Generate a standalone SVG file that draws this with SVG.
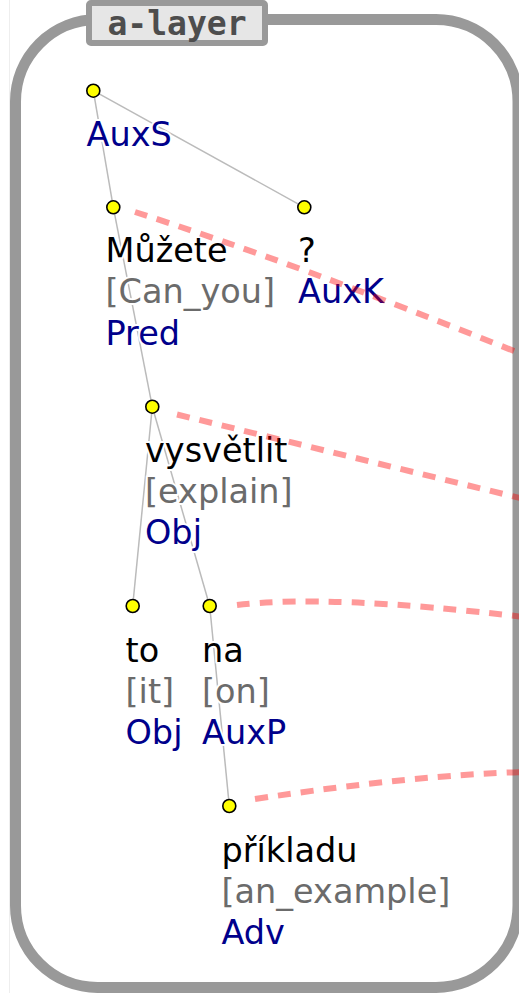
<svg xmlns="http://www.w3.org/2000/svg" width="519" height="993" viewBox="0 0 519 993">
<style>
.t{font-family:"DejaVu Sans","Noto Sans",sans-serif;font-size:33.5px;stroke:#fff;stroke-width:4;stroke-linejoin:round;paint-order:stroke}
.w{fill:#000}
.g{fill:#6b6b6b}
.f{fill:#00008b}
.e{stroke:#bbb;stroke-width:1.5;fill:none}
.c{stroke:#f00;stroke-opacity:0.4;stroke-width:6;fill:none;stroke-dasharray:13 10}
.n{fill:#ff0;stroke:#000;stroke-width:1.6}
</style>
<rect width="519" height="993" fill="#fff"/>
<line x1="9.5" y1="0" x2="9.5" y2="993" stroke="#eee" stroke-width="1"/>
<g id="layer-frame">
<rect x="15.5" y="19.5" width="502.5" height="968" rx="82" ry="82" fill="none" stroke="#999" stroke-width="11"/>
<rect x="89" y="3" width="176" height="40" rx="2" fill="#e6e6e6" stroke="#999" stroke-width="6"/>
<text x="177" y="35" text-anchor="middle" font-family="'DejaVu Sans Mono',monospace" font-weight="bold" font-size="33" fill="#4d4d4d">a-layer</text>
</g>
<g id="edges">
<line class="e" x1="93.3" y1="90.7" x2="113.3" y2="207.3"/>
<line class="e" x1="93.3" y1="90.7" x2="304.3" y2="207.3"/>
<line class="e" x1="113.3" y1="207.3" x2="152.3" y2="406.7"/>
<line class="e" x1="152.3" y1="406.7" x2="132.7" y2="606"/>
<line class="e" x1="152.3" y1="406.7" x2="209.7" y2="606"/>
<line class="e" x1="209.7" y1="606" x2="229.3" y2="806"/>
</g>
<g id="n-auxs">
<text class="t f" x="86.5" y="146">AuxS</text>
</g>
<g id="n-muzete">
<text class="t w" x="105.5" y="262">Můžete</text>
<text class="t g" x="105.5" y="303.3">[Can_you]</text>
<text class="t f" x="105.5" y="344.6">Pred</text>
</g>
<g id="n-q">
<text class="t w" x="298" y="262">?</text>
<text class="t f" x="298" y="303.3">AuxK</text>
</g>
<g id="n-vysvetlit">
<text class="t w" x="145" y="461.5">vysvětlit</text>
<text class="t g" x="145" y="502.8">[explain]</text>
<text class="t f" x="145" y="544.1">Obj</text>
</g>
<g id="n-to">
<text class="t w" x="125.5" y="661.5">to</text>
<text class="t g" x="125.5" y="702.8">[it]</text>
<text class="t f" x="125.5" y="744.1">Obj</text>
</g>
<g id="n-na">
<text class="t w" x="202" y="661.5">na</text>
<text class="t g" x="202" y="702.8">[on]</text>
<text class="t f" x="202" y="744.1">AuxP</text>
</g>
<g id="n-prikladu">
<text class="t w" x="221.5" y="861.5">příkladu</text>
<text class="t g" x="221.5" y="902.8">[an_example]</text>
<text class="t f" x="221.5" y="944.1">Adv</text>
</g>
<g id="alignments">
<path class="c" d="M135,212 Q292,262 524,355"/>
<path class="c" d="M177,414.5 L524,499"/>
<path class="c" d="M237,605 Q330,594 524,617"/>
<path class="c" d="M255,799 Q414,775 524,772"/>
</g>
<g id="nodes">
<circle class="n" cx="93.3" cy="90.7" r="6.5"/>
<circle class="n" cx="113.3" cy="207.3" r="6.5"/>
<circle class="n" cx="304.3" cy="207.3" r="6.5"/>
<circle class="n" cx="152.3" cy="406.7" r="6.5"/>
<circle class="n" cx="132.7" cy="606" r="6.5"/>
<circle class="n" cx="209.7" cy="606" r="6.5"/>
<circle class="n" cx="229.3" cy="806" r="6.5"/>
</g>
</svg>
